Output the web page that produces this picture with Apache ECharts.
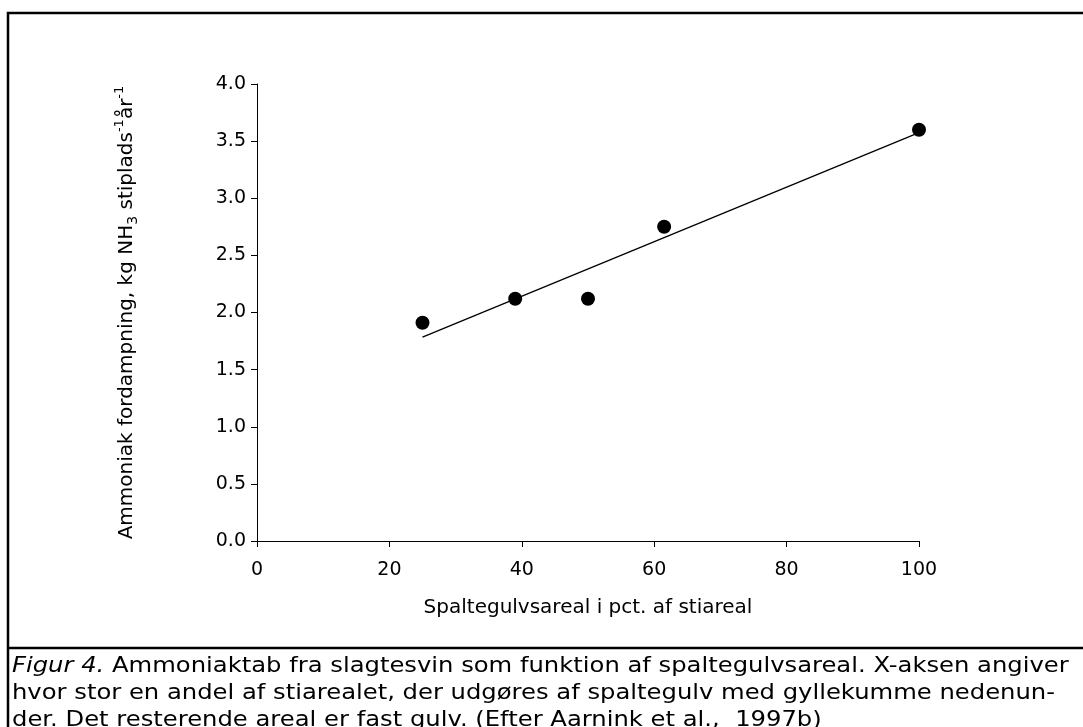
<!DOCTYPE html>
<html><head><meta charset="utf-8">
<script src="https://cdn.jsdelivr.net/npm/echarts@6/dist/echarts.min.js"></script>
<style>html,body{margin:0;padding:0;background:#fff}#c{width:1083px;height:727px}</style>
</head><body><div id="c"></div>
<script>
const pointX = [25, 39, 50, 61.5, 100];
const pointY = [1.91, 2.12, 2.12, 2.75, 3.60];
const trendX = [25, 100];
const trendY = [1.785, 3.575];
const xTicks = [0, 20, 40, 60, 80, 100];
const yTicks = [0, 0.5, 1.0, 1.5, 2.0, 2.5, 3.0, 3.5, 4.0];
const xTitle = 'Spaltegulvsareal i pct. af stiareal';
const captionLines = [
  '{i|Figur 4.} Ammoniaktab fra slagtesvin som funktion af spaltegulvsareal. X-aksen angiver',
  'hvor stor en andel af stiarealet, der udgøres af spaltegulv med gyllekumme nedenun-',
  'der. Det resterende areal er fast gulv. (Efter Aarnink et al.,  1997b)'
];

const font = 'DejaVu Sans, Verdana, sans-serif';
const chart = echarts.init(document.getElementById('c'), null, {renderer: 'canvas'});
const captionGraphics = captionLines.map((t, i) => ({
  type: 'text', x: 12, y: 656 + i * 27, scaleX: 1.155, scaleY: 1,
  style: {text: t, font: '21px ' + font, fill: '#000',
    rich: {i: {fontStyle: 'italic', fontSize: 21, fontFamily: font, fill: '#000'}}}
}));
chart.setOption({
  animation: false,
  backgroundColor: '#fff',
  grid: {left: 257, right: 164, top: 84, bottom: 186, containLabel: false},
  xAxis: {
    type: 'value', min: xTicks[0], max: xTicks[xTicks.length - 1], interval: 20,
    name: xTitle, nameLocation: 'middle', nameGap: 57,
    nameTextStyle: {fontSize: 20, fontFamily: font, color: '#000'},
    axisLine: {show: true, onZero: false, lineStyle: {color: '#000', width: 1}},
    axisTick: {show: true, inside: false, length: 6, lineStyle: {color: '#000'}},
    axisLabel: {fontSize: 19, fontFamily: font, color: '#000', margin: 20},
    splitLine: {show: false}
  },
  yAxis: {
    type: 'value', min: yTicks[0], max: yTicks[yTicks.length - 1], interval: 0.5,
    name: '{n|Ammoniak fordampning, kg NH}{sub|3}{n| stiplads}{sup|-1}{n|år}{sup|-1}',
    nameLocation: 'middle', nameGap: 114, nameRotate: 90,
    nameTextStyle: {
      fontSize: 20, fontFamily: font, color: '#000',
      rich: {
        n: {fontSize: 20, fontFamily: font, color: '#000', lineHeight: 32, verticalAlign: 'middle'},
        sub: {fontSize: 14, fontFamily: font, color: '#000', lineHeight: 32, verticalAlign: 'bottom', padding: [0,0,3,0]},
        sup: {fontSize: 13, fontFamily: font, color: '#000', lineHeight: 32, verticalAlign: 'top', padding: [2,0,0,0]}
      }
    },
    axisLine: {show: true, onZero: false, lineStyle: {color: '#000', width: 1}},
    axisTick: {show: true, inside: false, length: 6, lineStyle: {color: '#000'}},
    axisLabel: {fontSize: 19, fontFamily: font, color: '#000', margin: 11,
      formatter: v => v.toFixed(1)},
    splitLine: {show: false}
  },
  series: [
    {type: 'line', data: trendX.map((x, i) => [x, trendY[i]]), showSymbol: false, symbol: 'none',
      lineStyle: {color: '#000', width: 1.3}, silent: true, z: 2},
    {type: 'scatter', data: pointX.map((x, i) => [x, pointY[i]]), symbol: 'circle', symbolSize: 14,
      itemStyle: {color: '#000', opacity: 1}, z: 3}
  ],
  graphic: [
    {type: 'rect', shape: {x: 8, y: 13, width: 1100, height: 800},
      style: {fill: 'none', stroke: '#000', lineWidth: 2.5}, silent: true},
    {type: 'line', shape: {x1: 8, y1: 648, x2: 1100, y2: 648},
      style: {stroke: '#000', lineWidth: 2.5}, silent: true}
  ].concat(captionGraphics)
});
</script></body></html>
